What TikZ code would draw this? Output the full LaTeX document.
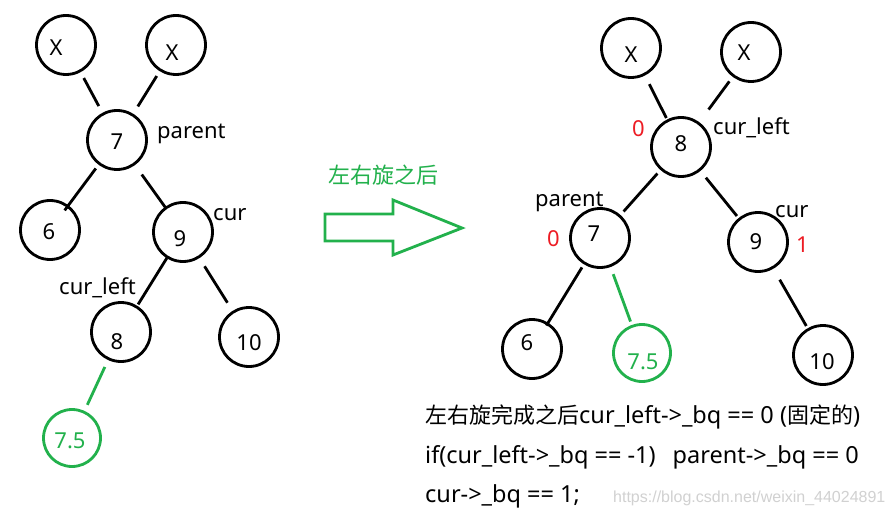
\documentclass[tikz,border=0pt]{standalone}
\usepackage{fontspec}
\setmainfont{Noto Sans}
\newfontfamily\cjk{Noto Sans CJK SC}
\newfontfamily\wmfont{Liberation Sans}
\definecolor{pgreen}{RGB}{34,177,76}
\definecolor{pred}{RGB}{237,28,36}
\newcommand{\cjkt}[1]{{\cjk\fontsize{22}{26}\selectfont #1}}
\begin{document}
\begin{tikzpicture}[x=1pt,y=-1pt,
  font=\fontsize{22}{26}\selectfont,
  circ/.style={circle, draw, line width=2.8pt, minimum size=59pt, inner sep=0pt, outer sep=0pt},
  gcirc/.style={circ, draw=pgreen, minimum size=57pt},
  edge/.style={line width=2.8pt},
  gedge/.style={edge, draw=pgreen},
  lbl/.style={anchor=base west, inner sep=0pt},
  num/.style={lbl, text=pred},
  btxt/.style={lbl, font=\fontsize{23.5}{28}\selectfont}]
\useasboundingbox[fill=white] (0,0) rectangle (892,516);

% ---------- left tree ----------
\node[circ, label={[xshift=-10pt,yshift=-3pt]center:X}] (lx1) at (66,45) {};
\node[circ, label={[xshift=-4pt,yshift=-8pt]center:X}] (lx2) at (176,45) {};
\node[circ, label={[xshift=0pt,yshift=-2pt]center:7}] (l7) at (117,140) {};
\node[circ, label={[xshift=-1pt,yshift=-2pt]center:6}] (l6) at (50,230) {};
\node[circ, label={[xshift=-3pt,yshift=-7pt]center:9}] (l9) at (183,232) {};
\node[circ, label={[xshift=-4pt,yshift=-10pt]center:8}] (l8) at (121,332) {};
\node[circ, label={[xshift=0pt,yshift=-6pt]center:10}] (l10) at (249,337) {};
\node[gcirc, label={[xshift=-2pt,yshift=-3pt,text=pgreen]center:7.5}] (l75) at (72,438) {};

\draw[edge, shorten <=8pt, shorten >=9pt] (lx1) -- (l7);
\draw[edge, shorten <=7pt, shorten >=10pt] (lx2) -- (l7);
\draw[edge, shorten <=6pt, shorten >=-5pt] (l7) -- (l6);
\draw[edge, shorten <=13pt, shorten >=0pt] (l7) -- (l9);
\draw[edge, shorten <=1pt, shorten >=3pt] (l9) -- (l8);
\draw[edge, shorten <=11pt, shorten >=11pt] (l9) -- (l10);
\draw[gedge, shorten <=9pt, shorten >=8pt] (l8) -- (l75);

\node[lbl] (lparent) at (157,139) {parent};
\node[lbl] (lcur) at (213,220) {cur};
\node[lbl] (lcurleft) at (59,294) {cur\_left};

% ---------- arrow ----------
\draw[pgreen, line width=2.8pt, line join=miter]
  (325,214) -- (393,214) -- (393,200) -- (462,228) -- (393,255) -- (393,241) -- (325,241) -- cycle;
\node[lbl, text=pgreen] (arrowtxt) at (328,183) {\cjk 左右旋之后};

% ---------- right tree ----------
\node[circ, label={[xshift=0pt,yshift=-7pt]center:X}] (rx1) at (631,48) {};
\node[circ, label={[xshift=-7pt,yshift=-1pt]center:X}] (rx2) at (751,52) {};
\node[circ, label={[xshift=0pt,yshift=3pt]center:8}] (r8) at (681,147) {};
\node[circ, label={[xshift=-6pt,yshift=4pt]center:7}] (r7) at (600,238) {};
\node[circ, label={[xshift=-2pt,yshift=0pt]center:9}] (r9) at (758,242) {};
\node[circ, label={[xshift=-5pt,yshift=6pt]center:6}] (r6) at (532,349) {};
\node[gcirc, label={[xshift=1pt,yshift=-9pt,text=pgreen]center:7.5}] (r75) at (642,353) {};
\node[circ, label={[xshift=-1pt,yshift=-7pt]center:10}] (r10) at (823,355) {};

\draw[edge, shorten <=11pt, shorten >=3pt] (rx1) -- (r8);
\draw[edge, shorten <=7pt, shorten >=17pt] (rx2) -- (r8);
\draw[edge, shorten <=6pt, shorten >=6pt] (r8) -- (r7);
\draw[edge, shorten <=10pt, shorten >=4pt] (r8) -- (r9);
\draw[edge, shorten <=5pt, shorten >=-2pt] (r7) -- (r6);
\draw[gedge, shorten <=9pt, shorten >=5pt] (r7) -- (r75);
\draw[edge, shorten <=14pt, shorten >=4pt] (r9) -- (r10);

\node[num] (rb8) at (632,137) {0};
\node[lbl] (rcurleft) at (713,135) {cur\_left};
\node[lbl] (rparent) at (535,207) {parent};
\node[num] (rb7) at (547,246) {0};
\node[lbl] (rcur) at (775,217) {cur};
\node[num] (rb9) at (796,252) {1};

% ---------- bottom text ----------
\node[btxt] (t1) at (425,423) {\cjkt{左右旋完成之后}cur\_left->\_bq == 0 (\cjkt{固定的})};
\node[btxt] (t2) at (425,463) {if(cur\_left->\_bq == -1)\hspace{17pt}parent->\_bq == 0};
\node[btxt] (t3) at (425,502) {cur->\_bq == 1;};
\node[lbl, font=\wmfont\fontsize{16}{19}\selectfont, text=black!18] (wm) at (613,502) {https://blog.csdn.net/weixin\_44024891};
\end{tikzpicture}
\end{document}
